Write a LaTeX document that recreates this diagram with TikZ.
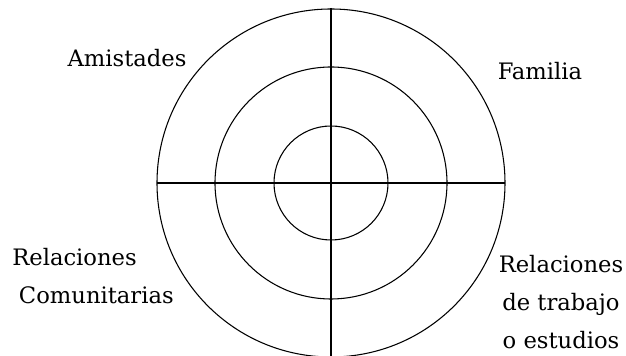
\documentclass[tikz,border=0pt]{standalone}
\usepackage{fontspec}
\setmainfont{DejaVu Serif}
\usetikzlibrary{positioning}

\tikzset{
    ring/.style={line width=0.8pt, black},
    axis/.style={line width=0.8pt, black},
    sector/.style={font=\fontsize{17}{28.5}\selectfont, inner sep=0pt}
}

\begin{document}
\begin{tikzpicture}[
    x=0.75pt,
    y=0.75pt
]

% Canvas
\useasboundingbox (0,0) rectangle (626,356);

% =========================
% CENTRE AND RINGS
% =========================
\coordinate (centre) at (331,173);

\draw[ring] (centre) circle (174);
\draw[ring] (centre) circle (116);
\draw[ring] (centre) circle (57);

% =========================
% CROSS
% =========================
\coordinate (west)  at (157,173);
\coordinate (east)  at (505,173);
\coordinate (north) at (331,348);
\coordinate (south) at (331,0);

\draw[axis] (west) -- (east);
\draw[axis] (north) -- (south);

% =========================
% LABELS
% =========================
\node[
    sector,
    anchor=base
]
(amistades) at (127,289)
{Amistades};

\node[
    sector,
    anchor=base
]
(familia) at (540,276)
{Familia};

\node[
    sector,
    anchor=west,
    align=left
]
(comunitarias) at (12,80)
{Relaciones\\\hspace{5pt}Comunitarias};

\node[
    sector,
    align=center
]
(trabajo) at (561,54)
{Relaciones\\de trabajo\\o estudios};

\end{tikzpicture}
\end{document}
